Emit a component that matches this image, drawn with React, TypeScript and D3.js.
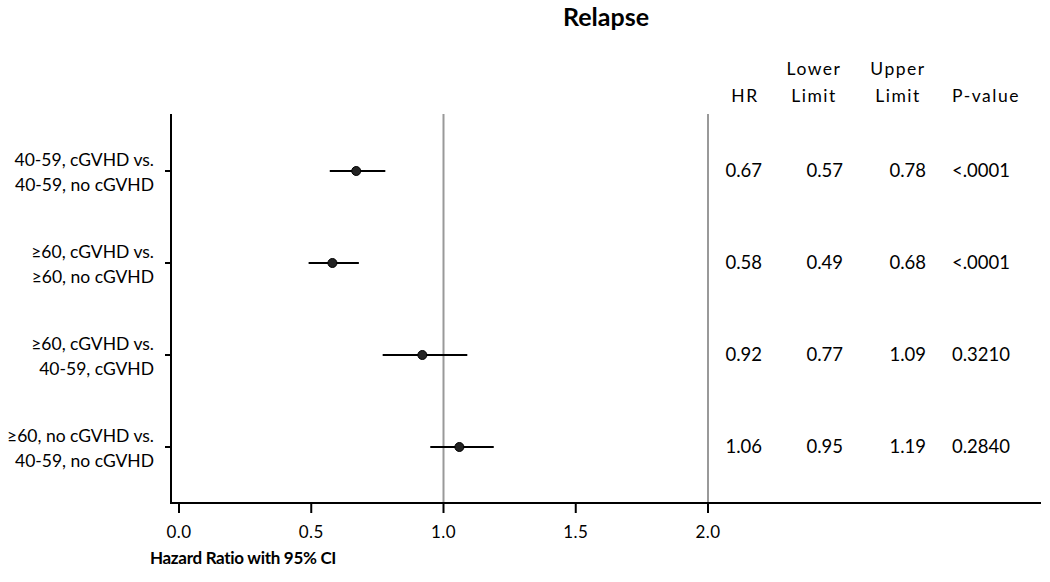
import React, { useEffect, useRef } from "react";
import * as d3 from "d3";

const labelsTop = ["40-59, cGVHD vs.", "≥60, cGVHD vs.", "≥60, cGVHD vs.", "≥60, no cGVHD vs."];
const labelsBottom = ["40-59, no cGVHD", "≥60, no cGVHD", "40-59, cGVHD", "40-59, no cGVHD"];
const hr = [0.67, 0.58, 0.92, 1.06];
const lower = [0.57, 0.49, 0.77, 0.95];
const upper = [0.78, 0.68, 1.09, 1.19];
const pvalues = ["<.0001", "<.0001", "0.3210", "0.2840"];
const xTicks = [0, 0.5, 1, 1.5, 2];
const refLines = [1, 2];

const width = 1050;
const height = 582;
const font = "Lato, 'Open Sans', sans-serif";

export default function App() {
  const svgRef = useRef<SVGSVGElement>(null);

  useEffect(() => {
    const svg = d3.select(svgRef.current);
    svg.selectAll("*").remove();

    const top = 114;
    const bottom = 503;
    const left = 171;

    const x = d3.scaleLinear().domain([0, 2]).range([179, 708]);
    const y = d3
      .scalePoint<number>()
      .domain(hr.map((_, i) => i))
      .range([171, 447]);

    svg
      .append("text")
      .attr("x", 606)
      .attr("y", 26)
      .attr("text-anchor", "middle")
      .attr("font-family", font)
      .attr("font-weight", "bold")
      .attr("font-size", 25)
      .text("Relapse");

    // reference lines
    svg
      .selectAll(".ref")
      .data(refLines)
      .join("line")
      .attr("x1", (d) => x(d))
      .attr("x2", (d) => x(d))
      .attr("y1", top)
      .attr("y2", bottom)
      .attr("stroke", "#999")
      .attr("stroke-width", 2);

    // axes
    svg
      .append("line")
      .attr("x1", left)
      .attr("x2", left)
      .attr("y1", top)
      .attr("y2", bottom)
      .attr("stroke", "#000")
      .attr("stroke-width", 2);
    svg
      .append("line")
      .attr("x1", left - 1)
      .attr("x2", 1041)
      .attr("y1", bottom)
      .attr("y2", bottom)
      .attr("stroke", "#000")
      .attr("stroke-width", 2);

    const xa = svg.append("g");
    xTicks.forEach((t) => {
      xa.append("line")
        .attr("x1", x(t))
        .attr("x2", x(t))
        .attr("y1", bottom)
        .attr("y2", bottom + 10)
        .attr("stroke", "#000")
        .attr("stroke-width", 2);
      xa.append("text")
        .attr("x", x(t))
        .attr("y", 538)
        .attr("text-anchor", "middle")
        .attr("font-family", font)
        .attr("font-size", 17)
        .attr("letter-spacing", 0.5)
        .text(d3.format(".1f")(t));
    });
    svg
      .append("text")
      .attr("x", 243)
      .attr("y", 564)
      .attr("text-anchor", "middle")
      .attr("font-family", font)
      .attr("font-weight", "bold")
      .attr("font-size", 17)
      .attr("letter-spacing", -0.3)
      .text("Hazard Ratio with 95% CI");

    // header
    const header = [
      { x: 745, lines: ["", "HR"] },
      { x: 814, lines: ["Lower", "Limit"] },
      { x: 898, lines: ["Upper", "Limit"] },
      { x: 986, lines: ["", "P-value"] },
    ];
    header.forEach((h) => {
      h.lines.forEach((l, j) => {
        svg
          .append("text")
          .attr("x", h.x)
          .attr("y", 75 + j * 27)
          .attr("text-anchor", "middle")
          .attr("font-family", font)
          .attr("font-size", 17.5)
          .attr("letter-spacing", 1.5)
          .text(l);
      });
    });

    hr.forEach((v, i) => {
      const cy = y(i)!;
      svg
        .append("line")
        .attr("x1", left - 6)
        .attr("x2", left)
        .attr("y1", cy)
        .attr("y2", cy)
        .attr("stroke", "#000")
        .attr("stroke-width", 2);
      svg
        .append("text")
        .attr("x", 154)
        .attr("y", cy - 5)
        .attr("text-anchor", "end")
        .attr("font-family", font)
        .attr("font-size", 17.5)
        .text(labelsTop[i]);
      svg
        .append("text")
        .attr("x", 154)
        .attr("y", cy + 20)
        .attr("text-anchor", "end")
        .attr("font-family", font)
        .attr("font-size", 17.5)
        .text(labelsBottom[i]);

      svg
        .append("line")
        .attr("x1", x(lower[i]))
        .attr("x2", x(upper[i]))
        .attr("y1", cy)
        .attr("y2", cy)
        .attr("stroke", "#000")
        .attr("stroke-width", 2);
      svg
        .append("circle")
        .attr("cx", x(v))
        .attr("cy", cy)
        .attr("r", 4.5)
        .attr("fill", "#222")
        .attr("stroke", "#000")
        .attr("stroke-width", 1);

      const ty = cy + 6;
      const cols: [number, string, string][] = [
        [762, d3.format(".2f")(v), "end"],
        [843, d3.format(".2f")(lower[i]), "end"],
        [926, d3.format(".2f")(upper[i]), "end"],
        [952, pvalues[i], "start"],
      ];
      cols.forEach(([cx, t, anchor]) => {
        svg
          .append("text")
          .attr("x", cx)
          .attr("y", ty)
          .attr("text-anchor", anchor)
          .attr("font-family", font)
          .attr("font-size", 18.5)
          .text(t);
      });
    });
  }, []);

  return (
    <svg
      ref={svgRef}
      width={width}
      height={height}
      style={{ position: "absolute", left: 0, top: 0, background: "#fff" }}
    />
  );
}
